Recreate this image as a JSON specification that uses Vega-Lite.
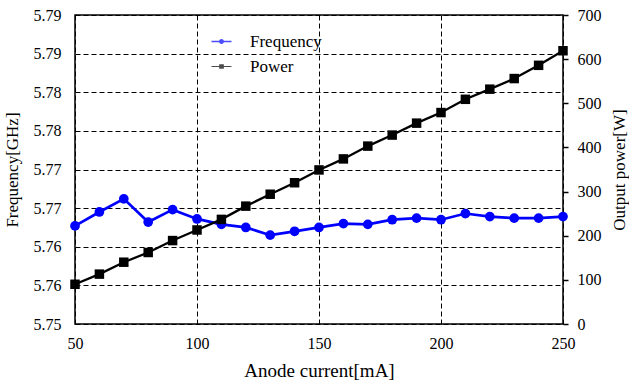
{
  "$schema": "https://vega.github.io/schema/vega-lite/v6.json",
  "width": 488,
  "height": 309,
  "autosize": "none",
  "padding": {"left": 75, "top": 15, "right": 66, "bottom": 58},
  "background": "white",
  "config": {
    "font": "Times New Roman",
    "view": {"stroke": "black", "strokeWidth": 1.5},
    "axis": {
      "labelFont": "Times New Roman",
      "titleFont": "Times New Roman",
      "labelFontSize": 16,
      "titleFontSize": 17,
      "labelColor": "black",
      "titleColor": "black",
      "titleFontWeight": "normal",
      "domain": false,
      "gridColor": "black",
      "gridDash": [5, 3],
      "gridWidth": 1,
      "gridOpacity": 1
    },
    "legend": {"labelFont": "Times New Roman", "labelFontSize": 17, "labelColor": "black"}
  },
  "data": {
    "values": [
      {"current": 50, "frequency": 5.7627, "power": 90},
      {"current": 60, "frequency": 5.7645, "power": 113},
      {"current": 70, "frequency": 5.7662, "power": 140},
      {"current": 80, "frequency": 5.7632, "power": 162},
      {"current": 90, "frequency": 5.7648, "power": 189},
      {"current": 100, "frequency": 5.7636, "power": 213},
      {"current": 110, "frequency": 5.7629, "power": 237},
      {"current": 120, "frequency": 5.7625, "power": 267},
      {"current": 130, "frequency": 5.7615, "power": 294},
      {"current": 140, "frequency": 5.7620, "power": 320},
      {"current": 150, "frequency": 5.7625, "power": 349},
      {"current": 160, "frequency": 5.7630, "power": 374},
      {"current": 170, "frequency": 5.7629, "power": 403},
      {"current": 180, "frequency": 5.7635, "power": 428},
      {"current": 190, "frequency": 5.7637, "power": 455},
      {"current": 200, "frequency": 5.7635, "power": 479},
      {"current": 210, "frequency": 5.7643, "power": 509},
      {"current": 220, "frequency": 5.7639, "power": 532},
      {"current": 230, "frequency": 5.7637, "power": 556},
      {"current": 240, "frequency": 5.7637, "power": 586},
      {"current": 250, "frequency": 5.7639, "power": 619}
    ]
  },
  "encoding": {
    "x": {
      "field": "current",
      "type": "quantitative",
      "scale": {"domain": [50, 250], "nice": false, "zero": false},
      "axis": {
        "title": "Anode current[mA]",
        "titleFontSize": 19,
        "values": [50, 100, 150, 200, 250],
        "ticks": false,
        "labelFlush": false,
        "labelPadding": 11,
        "titlePadding": 10,
        "grid": true
      }
    }
  },
  "layer": [
    {
      "layer": [
        {"mark": {"type": "line", "color": "#0000ff", "strokeWidth": 2.7}},
        {"mark": {"type": "point", "shape": "circle", "filled": true, "color": "#0000ff", "opacity": 1, "size": 95}}
      ],
      "encoding": {
        "y": {
          "field": "frequency",
          "type": "quantitative",
          "scale": {"domain": [5.75, 5.79], "nice": false, "zero": false},
          "axis": {
            "orient": "left",
            "title": "Frequency[GHz]",
            "values": [5.75, 5.755, 5.76, 5.765, 5.77, 5.775, 5.78, 5.785, 5.79],
            "labelExpr": "format(datum.value + 0.001, '.2f')",
            "labelFlush": false,
            "ticks": false,
            "labelPadding": 14,
            "titlePadding": 12,
            "grid": true
          }
        }
      }
    },
    {
      "layer": [
        {"mark": {"type": "line", "color": "black", "strokeWidth": 2.3}},
        {"mark": {"type": "point", "shape": "square", "filled": true, "color": "black", "opacity": 1, "size": 90}}
      ],
      "encoding": {
        "y": {
          "field": "power",
          "type": "quantitative",
          "scale": {"domain": [0, 700], "nice": false},
          "axis": {
            "orient": "right",
            "title": "Output power[W]",
            "titleAngle": 270,
            "values": [0, 100, 200, 300, 400, 500, 600, 700],
            "labelFlush": false,
            "ticks": true,
            "tickColor": "black",
            "tickSize": 5,
            "tickWidth": 1.5,
            "labelPadding": 9,
            "titlePadding": 27,
            "grid": false
          }
        }
      }
    },
    {
      "transform": [{"filter": "datum.current < 0"}],
      "mark": {"type": "point", "filled": true},
      "encoding": {
        "shape": {
          "field": "series",
          "type": "nominal",
          "scale": {
            "domain": ["Frequency", "Power"],
            "range": [
              "M-2,-0.13H-0.4V0.13H-2Z M0.4,-0.13H2V0.13H0.4Z M0.5,0A0.5,0.5 0 1 1 -0.5,0A0.5,0.5 0 1 1 0.5,0Z",
              "M-2,-0.11H-0.45V0.11H-2Z M0.45,-0.11H2V0.11H0.45Z M-0.47,-0.47H0.47V0.47H-0.47Z"
            ]
          },
          "legend": null
        },
        "color": {
          "field": "series",
          "type": "nominal",
          "scale": {"domain": ["Frequency", "Power"], "range": ["#0000ff", "black"]},
          "legend": {
            "title": null,
            "orient": "none",
            "legendX": 138,
            "legendY": 18,
            "rowPadding": 7,
            "labelOffset": 20
          }
        }
      }
    }
  ],
  "resolve": {"scale": {"y": "independent"}}
}
